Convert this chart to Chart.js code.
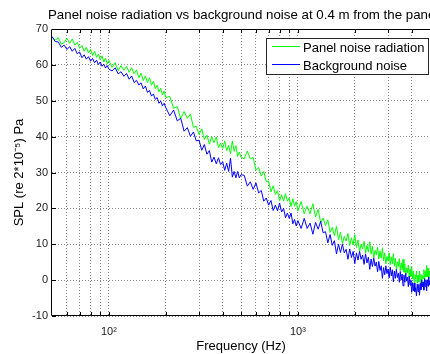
<!DOCTYPE html>
<html><head><meta charset="utf-8">
<script src="https://cdn.jsdelivr.net/npm/chart.js@4/dist/chart.umd.min.js"></script>
<style>html,body{margin:0;padding:0;background:#fff;overflow:hidden}#wrap{width:430px;height:354px;position:relative}canvas{display:block}</style>
</head><body><div id="wrap"><canvas id="c" width="430" height="354"></canvas></div>
<script>
// Frequency (Hz)
const freq = [
50,52,54,56,58,60,62,64,66,68,70,72,74,76,78,80,82,84,86,88,90,92,94,96,98,100,
104,108,112,116,120,124,128,132,136,140,144,148,152,156,160,164,168,172,176,180,184,188,192,196,200,
210,220,230,240,250,260,270,280,290,300,310,320,330,340,350,360,370,380,390,400,410,420,430,440,450,460,470,480,490,500,
520,540,560,580,600,620,640,660,680,700,720,740,760,780,800,820,840,860,880,900,920,940,960,980,1000,
1040,1080,1120,1160,1200,1240,1280,1320,1360,1400,
1440,1480,1520,1560,1600,1640,1680,1720,1760,1800,
1840,1880,1920,1960,2000,2040,2080,2120,2160,2200,
2240,2280,2320,2360,2400,2440,2480,2520,2560,2600,
2640,2680,2720,2760,2800,2840,2880,2920,2960,3000,
3040,3080,3120,3160,3200,3240,3280,3320,3360,3400,
3440,3480,3520,3560,3600,3640,3680,3720,3760,3800,
3840,3880,3920,3960,4000,4040,4080,4120,4160,4200,
4240,4280,4320,4360,4400,4440,4480,4520,4560,4600,
4640,4680,4720,4760,4800,4840,4880,4920,4960,5000
];
// Panel noise radiation, SPL (dB)
const panelNoise = [
67.8,66.9,67.6,65.8,66.2,67.4,66.0,67.2,65.5,66.3,64.6,65.4,63.8,64.9,63.3,64.4,62.6,63.8,62.1,63.0,61.4,62.5,60.8,61.9,60.3,61.2,
59.3,60.6,58.4,59.8,58.5,59.6,57.9,59.2,57.5,58.6,56.4,57.7,55.6,56.9,55.1,56.4,54.3,55.4,53.4,54.3,52.5,53.5,51.6,52.7,50.9,
51.2,47.9,48.4,45.0,47.0,45.1,46.3,42.6,42.9,40.6,42.2,39.2,40.4,37.9,40.0,38.3,39.9,36.9,38.2,36.7,38.8,36.1,37.6,35.3,38.8,35.9,37.5,34.5,35.7,34.3,
33.8,36.0,33.8,34.2,30.6,31.4,29.0,30.3,27.5,27.6,24.6,26.3,23.9,24.9,22.1,23.8,22.1,24.1,22.0,22.9,20.5,22.7,20.6,21.9,19.3,
21.9,18.5,20.6,18.5,21.3,17.6,19.7,16.0,17.3,15.2,
16.8,13.3,14.7,12.4,15.0,11.3,13.4,10.2,12.2,10.9,
13.0,9.6,11.8,9.8,12.7,9.1,11.2,7.9,10.0,8.7,
10.8,7.5,9.7,7.8,10.7,7.2,9.4,6.2,8.3,7.1,
9.2,5.9,8.1,6.1,9.0,5.4,7.6,4.5,6.6,5.4,
7.6,4.3,6.5,4.5,7.4,3.9,6.1,3.0,5.1,3.8,
6.0,2.6,4.8,2.9,5.8,2.2,4.5,1.3,3.4,2.1,
4.2,0.8,3.0,1.0,3.9,0.3,2.5,-0.7,1.5,0.3,
2.5,-0.9,1.4,-0.5,2.5,-0.9,1.6,-1.2,1.3,0.4,
2.9,-0.1,2.5,0.9,4.1,0.8,3.3,0.3,2.5,1.3
];
// Background noise, SPL (dB)
const backgroundNoise = [
67.9,66.5,66.4,64.9,65.5,64.3,65.1,63.8,64.6,63.1,63.6,62.0,62.8,61.6,62.3,61.0,61.8,60.6,61.3,60.1,60.8,59.6,60.2,59.1,59.8,58.8,
58.3,59.2,57.5,58.1,56.8,57.6,56.0,56.9,55.1,55.7,54.4,55.0,53.3,54.1,52.3,52.9,51.3,51.9,50.4,50.9,49.3,49.9,48.6,49.3,48.1,
45.8,47.4,44.4,45.1,41.5,42.5,40.1,41.3,38.8,39.0,36.2,37.8,35.1,36.1,32.9,34.3,32.4,34.1,32.2,33.0,30.6,32.6,30.3,34.0,28.7,30.3,28.5,30.3,28.5,29.4,
29.2,26.2,27.4,25.3,27.1,24.3,25.0,22.0,22.9,20.9,22.2,19.4,20.9,19.3,21.5,19.0,20.0,17.4,18.7,17.2,18.7,15.7,16.9,15.1,16.6,
14.4,17.2,14.4,15.9,12.8,16.1,14.2,16.4,13.2,13.5,
10.4,12.7,9.7,11.0,7.3,10.0,7.7,10.0,7.6,8.6,
5.8,8.7,6.3,8.0,4.6,7.6,5.6,8.0,5.8,7.0,
4.4,7.3,4.8,6.4,3.0,5.9,3.8,6.2,3.9,5.0,
2.3,5.2,2.7,4.0,0.5,3.5,1.5,4.0,1.8,3.1,
0.6,3.6,1.2,2.9,-0.5,2.5,0.5,3.0,0.7,1.9,
-0.6,2.4,0.0,1.7,-1.6,1.4,-0.6,1.9,-0.3,0.8,
-1.8,1.1,-1.4,0.1,-3.4,-0.7,-3.0,-0.8,-3.2,-2.1,
-4.4,-1.1,-3.2,-1.2,-4.2,-0.9,-2.7,0.1,-1.9,-0.5,
-2.8,0.4,-1.8,0.1,-3.0,0.1,-1.7,0.9,-1.3,0.0
];
const xGridTicks = [60,70,80,90,100,200,300,400,500,600,700,800,900,1000,2000,3000,4000];
const xTickLabels = {100:'10\u00B2', 1000:'10\u00B3'};
const yTickValues = [-10,0,10,20,30,40,50,60,70];
const seriesNames = ['Panel noise radiation','Background noise'];
const titleText = 'Panel noise radiation vs background noise at 0.4 m from the panel';

const FONT = '"Liberation Sans", Arial, Helvetica, sans-serif';

const framePlugin = {
  id: 'frame',
  afterDatasetsDraw(chart) {
    const {ctx, chartArea: a, scales} = chart;
    ctx.save();
    ctx.strokeStyle = '#000';
    ctx.lineWidth = 1;
    ctx.beginPath();
    ctx.moveTo(a.left - 0.5, a.bottom - 0.5);
    ctx.lineTo(a.left - 0.5, a.top + 0.5);
    ctx.lineTo(a.right + 2, a.top + 0.5);
    ctx.moveTo(a.left - 0.5, a.bottom - 0.5);
    ctx.lineTo(a.right + 2, a.bottom - 0.5);
    yTickValues.forEach(v => {
      const y = Math.round(scales.y.getPixelForValue(v)) + 0.5;
      ctx.moveTo(a.left, y); ctx.lineTo(a.left + 4, y);
    });
    xGridTicks.forEach(v => {
      const x = Math.round(scales.x.getPixelForValue(v)) + 0.5;
      ctx.moveTo(x, a.bottom - 1); ctx.lineTo(x, a.bottom - 4);
      ctx.moveTo(x, a.top + 1); ctx.lineTo(x, a.top + 4);
    });
    ctx.stroke();
    ctx.restore();
  },
  afterDraw(chart) {
    const {ctx} = chart;
    ctx.save();
    ctx.fillStyle = '#000';
    ctx.font = '13.3px ' + FONT;
    ctx.textAlign = 'left';
    ctx.textBaseline = 'alphabetic';
    ctx.fillText(titleText, 48, 19);
    ctx.fillStyle = '#fff';
    ctx.fillRect(266, 38, 163, 37);
    ctx.strokeStyle = '#262626';
    ctx.lineWidth = 1;
    ctx.strokeRect(266.5, 38.5, 162, 36);
    const ds = chart.data.datasets;
    const rows = [46.5, 64.5];
    ds.forEach((d, i) => {
      ctx.strokeStyle = d.borderColor;
      ctx.beginPath();
      ctx.moveTo(272, rows[i]); ctx.lineTo(300, rows[i]);
      ctx.stroke();
      ctx.fillStyle = '#000';
      ctx.font = '13px ' + FONT;
      ctx.fillText(d.label, 303, rows[i] + 5.5);
    });
    ctx.restore();
  }
};

new Chart(document.getElementById('c'), {
  type: 'line',
  data: {
    datasets: [
      { label: seriesNames[0], data: freq.map((f, i) => ({x: f, y: panelNoise[i]})),
        borderColor: '#00ff00', borderWidth: 1, pointRadius: 0, tension: 0, order: 1 },
      { label: seriesNames[1], data: freq.map((f, i) => ({x: f, y: backgroundNoise[i]})),
        borderColor: '#0000ff', borderWidth: 1, pointRadius: 0, tension: 0, order: 0 }
    ]
  },
  options: {
    responsive: false,
    animation: false,
    devicePixelRatio: 1,
    layout: { padding: { top: 29, right: 0, left: 0, bottom: 0 } },
    plugins: { legend: { display: false }, title: { display: false }, tooltip: { enabled: false } },
    scales: {
      x: {
        type: 'logarithmic', min: 50, max: 5000,
        afterBuildTicks: s => { s.ticks = xGridTicks.map(v => ({value: v})); },
        afterFit: s => { s.height = 38; },
        ticks: { autoSkip: false, maxRotation: 0, minRotation: 0, padding: 9,
          color: '#222', font: { family: FONT, size: 11 },
          callback: v => xTickLabels[v] || '' },
        grid: { color: '#8a8a8a', lineWidth: 1, drawTicks: false },
        border: { display: false, dash: [1, 2] },
        title: { display: true, text: 'Frequency (Hz)', color: '#000',
          font: { family: FONT, size: 13 }, padding: { top: 0, bottom: 0 } }
      },
      y: {
        min: -10, max: 70,
        afterBuildTicks: s => { s.ticks = yTickValues.map(v => ({value: v})); },
        afterFit: s => { s.width = 52; },
        ticks: { padding: 4, color: '#222', font: { family: FONT, size: 11 } },
        grid: { color: '#8a8a8a', lineWidth: 1, drawTicks: false },
        border: { display: false, dash: [1, 2] },
        title: { display: true, text: 'SPL (re 2*10\u207B\u2075) Pa', color: '#000',
          font: { family: FONT, size: 13 }, padding: { top: 12, bottom: 0 } }
      }
    }
  },
  plugins: [framePlugin]
});
</script>
</body></html>
